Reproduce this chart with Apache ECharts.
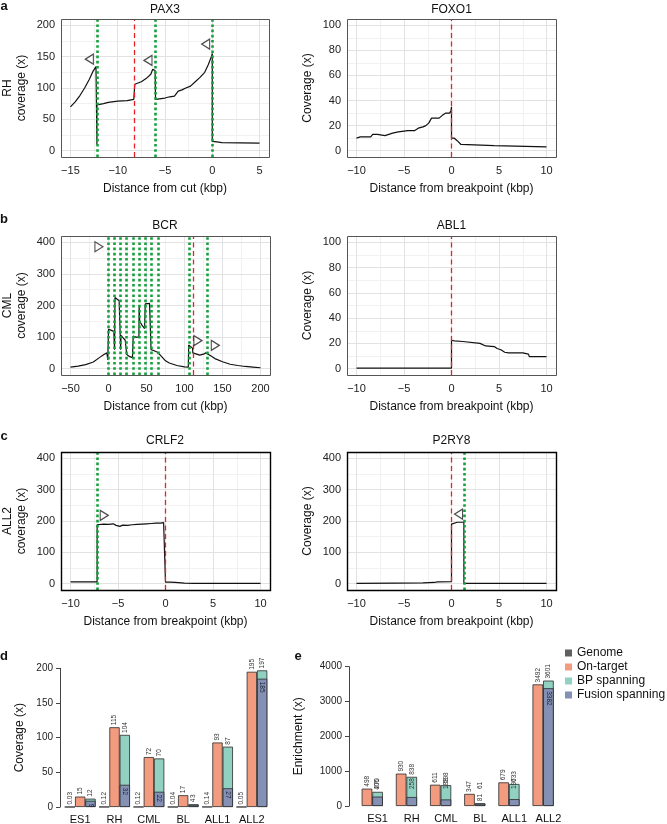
<!DOCTYPE html>
<html>
<head>
<meta charset="utf-8">
<title>Coverage and enrichment</title>
<script src="https://cdn.jsdelivr.net/npm/echarts@6.0.0/dist/echarts.min.js"></script>
<style>
  html, body { margin: 0; padding: 0; background: #fff; }
  #chart { width: 667px; height: 824px; }
</style>
</head>
<body>
<div id="chart"></div>
<script>
// ---- values ----
// coverage traces as [distance (kbp), coverage (x)]
const pax3 = [[-15,70],[-14.5,78],[-14,88],[-13.5,100],[-13,114],[-12.6,127],[-12.3,134],[-12.2,136],[-12.2,10],[-12.2,73],
  [-11.5,75],[-11,77],[-10,79],[-9,80],[-8.3,82],[-8.2,106],[-7.5,110],[-7,115],[-6.5,122],[-6.3,130],[-6.1,131],[-6.05,128],
  [-6,82],[-5,84],[-4.5,86],[-4,87],[-3.6,95],[-3.2,97],[-2.8,100],[-2.3,103],[-1.8,110],[-1.3,117],[-0.8,125],[-0.4,138],
  [-0.1,150],[0,155],[0,15],[0.5,14],[1,13],[3,12.5],[5,12]];
const foxo1 = [[-10,10],[-9.6,11],[-8.5,11],[-8.3,13],[-7.8,13],[-7.6,12],[-7,12],[-6.8,13],[-6.2,14],[-5.6,15],[-4.6,16],
  [-3.9,16],[-3.5,18],[-3,19],[-2.7,20],[-2.4,22],[-2.1,26],[-1.3,26],[-1,28],[-0.6,30],[-0.2,30],[-0.05,32],[0,35],[0,10],
  [0.3,10],[0.4,9],[0.6,8],[0.8,7],[1,5],[1.1,4],[4.5,4],[4.5,3],[10,3]];
const bcr = [[-50,5],[-40,8],[-30,13],[-20,21],[-12,35],[-6,45],[-2,50],[-1,28],[0,28],[0,125],[3,122],[7,118],[8,115],[8,60],
  [8.5,225],[11,222],[14,215],[15.5,213],[16,60],[16.5,105],[19,98],[22,90],[23.5,85],[24,45],[24.5,40],[28,38],[31.5,35],
  [32,30],[32.5,103],[36,100],[40,100],[40.3,200],[41,150],[44,138],[47.5,127],[48,127],[48.3,205],[50,209],[54,207],
  [55.5,205],[56,60],[60,57],[64.5,52],[65,48],[70,38],[75,25],[80,18],[90,10],[100,6],[105,5],[105.5,75],[108,72],
  [110.5,65],[111,50],[115,47],[120,43],[125,46],[128,50],[130,48],[135,40],[140,32],[150,22],[160,14],[170,10],[180,7],
  [190,5],[200,3]];
const abl1 = [[-10,0.5],[0,0.5],[0,22.5],[0.3,22],[1.2,21.5],[1.3,20],[3,20],[3.2,19],[3.6,18],[4.5,17.5],[4.8,16],[5.2,15],
  [5.6,13],[6,12.5],[7.5,12.5],[7.6,11.5],[8.1,11.5],[8.2,9.5],[10,9.5]];
const crlf2 = [[-10,6],[-7.2,6],[-7.2,188],[-6.5,190],[-6,189],[-5.5,191],[-5.2,186],[-4.8,183],[-4.5,187],[-4,186],[-3.5,188],
  [-3,189],[-2.5,190],[-2,191],[-1.5,192],[-1,193],[-0.5,193],[-0.2,195],[0,194],[0,5],[0.5,5],[1,4],[2,2],[3,1],[10,1]];
const p2ry8 = [[-10,1],[-6,2],[-3,3],[-1.8,4],[-1.5,6],[0,7],[0,190],[0.2,195],[0.6,196],[1.3,196],[1.3,1],[10,1]];

// cut sites (green dotted) and breakpoints (red dashed), kbp
const pax3Cuts = [-12.15, -6.05, -0.05], pax3Breaks = [-8.2];
const foxo1Cuts = [], foxo1Breaks = [0];
const bcrCuts = [0, 8, 16, 24, 32, 40, 48, 56, 65, 106, 130], bcrBreaks = [111];
const abl1Cuts = [], abl1Breaks = [0];
const crlf2Cuts = [-7.2], crlf2Breaks = [0];
const p2ry8Cuts = [1.3], p2ry8Breaks = [0];

// open triangle markers
const pax3Marks = [[-13.0,146],[-6.8,144],[-0.7,170]];
const bcrMarks = [[-12.6,386],[117.6,89],[140.5,74]];
const crlf2Marks = [[-6.45,218]];
const p2ry8Marks = [[0.74,222]];

// axis ticks
const cutTicks = [-15, -10, -5, 0, 5], cutMinor = [-12.5, -7.5, -2.5, 2.5];
const bpTicks = [-10, -5, 0, 5, 10], bpMinor = [-7.5, -2.5, 2.5, 7.5];
const bcrTicks = [-50, 0, 50, 100, 150, 200], bcrMinor = [-25, 25, 75, 125, 175];
const cov200 = [0, 50, 100, 150, 200], cov200Minor = [25, 75, 125, 175];
const cov100 = [0, 20, 40, 60, 80, 100], cov100Minor = [10, 30, 50, 70, 90];
const cov400 = [0, 100, 200, 300, 400], cov400Minor = [50, 150, 250, 350];

// bar panels
const cats = ['ES1', 'RH', 'CML', 'BL', 'ALL1', 'ALL2'];
const genomeCov = [0.03, 0.12, 0.12, 0.04, 0.14, 0.05];
const onTargetCov = [15, 115, 72, 17, 93, 195];
const bpCov = [12, 104, 70, 4, 87, 197];
const fusionCov = [9, 32, 22, 3, 27, 185];
const onTargetEnr = [498, 930, 611, 347, 679, 3492];
const bpEnr = [406, 838, 598, 81, 633, 3601];
const fusionEnr = [270, 258, 188, 61, 197, 3382];

const font = '"Liberation Sans", Arial, Helvetica, sans-serif';
const colGenome = '#5f5f5f', colOn = '#F39B7F', colBp = '#91D1C2', colFusion = '#8491B4';

const grids = [], xAxes = [], yAxes = [], series = [], graphics = [];

function minus(v) { return v < 0 ? '\u2212' + Math.abs(v) : String(v); }

function text(x, y, s, size, weight) {
  graphics.push({type: 'text', x: x, y: y, silent: true,
    style: {text: s, align: 'center', verticalAlign: 'middle', fontFamily: font, fontSize: size,
      fontWeight: weight || 'normal', fill: '#111'}});
}

// grid lines as marker lines spanning the axis range
function gridLines(p, vals, color) {
  return vals.x.map(v => [{coord: [v, p.yr[0]]}, {coord: [v, p.yr[1]]}])
    .concat(vals.y.map(v => [{coord: [p.xr[0], v]}, {coord: [p.xr[1], v]}]))
    .map(seg => { seg[0].lineStyle = {color: color, width: 1, type: 'solid'}; return seg; });
}

function linePanel(p) {
  const gi = grids.length;
  grids.push({left: p.box[0], top: p.box[1], width: p.box[2], height: p.box[3], show: false, outerBoundsMode: 'none'});
  xAxes.push({gridIndex: gi, type: 'value', min: p.xr[0], max: p.xr[1],
    name: p.xName, nameLocation: 'middle', nameGap: 26,
    nameTextStyle: {fontFamily: font, fontSize: 12, color: '#111'},
    axisLine: {show: false},
    axisTick: {show: true, customValues: p.xt, length: 3, lineStyle: {color: '#333'}},
    axisLabel: {customValues: p.xt, formatter: minus, margin: 8, fontFamily: font, fontSize: 11, color: '#222'},
    splitLine: {show: false}});
  yAxes.push({gridIndex: gi, type: 'value', min: p.yr[0], max: p.yr[1],
    name: p.yName, nameLocation: 'middle', nameRotate: 90, nameGap: 32,
    nameTextStyle: {fontFamily: font, fontSize: 12, color: '#111', lineHeight: 14},
    axisLine: {show: false},
    axisTick: {show: true, customValues: p.yt, length: 3, lineStyle: {color: '#333'}},
    axisLabel: {customValues: p.yt, margin: 6, fontFamily: font, fontSize: 11, color: '#222'},
    splitLine: {show: false}});
  const ax = {xAxisIndex: gi, yAxisIndex: gi};
  // panel grid: minor then major lines
  series.push(Object.assign({type: 'line', data: [], silent: true,
    markLine: {silent: true, z: 1, symbol: ['none', 'none'], label: {show: false},
      data: gridLines(p, {x: p.xm, y: p.ym}, '#f1f1f1').concat(gridLines(p, {x: p.xt, y: p.yt}, '#e2e2e2'))}}, ax));
  // coverage trace
  series.push(Object.assign({type: 'line', data: p.pts, showSymbol: false, symbol: 'none', silent: true, z: 3,
    lineStyle: {color: '#111', width: 1.2}}, ax));
  // cut sites / breakpoints
  series.push(Object.assign({type: 'line', data: [], silent: true,
    markLine: {silent: true, z: 4, symbol: ['none', 'none'], label: {show: false},
      data: p.cuts.map(v => ({xAxis: v, lineStyle: {color: '#14a03c', width: 2.6, type: [2.6, 2.6]}}))
        .concat(p.breaks.map(v => ({xAxis: v, lineStyle: {color: '#e8202a', width: 1.3, type: [5, 3.5]}})))}}, ax));
  // open triangles
  series.push(Object.assign({type: 'scatter', data: p.marks, symbol: 'triangle', symbolSize: [10, 8],
    symbolRotate: p.rot, silent: true, z: 5,
    itemStyle: {color: '#fff', borderColor: '#222', borderWidth: 1.2}}, ax));
  // panel frame
  graphics.push({type: 'rect', silent: true, z: 100,
    shape: {x: p.box[0] + 0.5, y: p.box[1] + 0.5, width: p.box[2], height: p.box[3]},
    style: {fill: 'none', stroke: p.frame[0], lineWidth: p.frame[1]}});
}

const frameAB = ['#555', 1], frameC = ['#000', 1.4];
linePanel({box: [61, 19, 208, 138], frame: frameAB, xr: [-16, 6], xt: cutTicks, xm: cutMinor,
  yr: [-10, 210], yt: cov200, ym: cov200Minor, pts: pax3, cuts: pax3Cuts, breaks: pax3Breaks,
  marks: pax3Marks, rot: 90, xName: 'Distance from cut (kbp)', yName: 'RH\ncoverage (x)'});
linePanel({box: [347, 19, 209, 138], frame: frameAB, xr: [-11, 11], xt: bpTicks, xm: bpMinor,
  yr: [-5, 105], yt: cov100, ym: cov100Minor, pts: foxo1, cuts: foxo1Cuts, breaks: foxo1Breaks,
  marks: [], rot: 90, xName: 'Distance from breakpoint (kbp)', yName: 'Coverage (x)'});
linePanel({box: [61, 236, 209, 139], frame: frameAB, xr: [-62.5, 212.5], xt: bcrTicks, xm: bcrMinor,
  yr: [-20, 420], yt: cov400, ym: cov400Minor, pts: bcr, cuts: bcrCuts, breaks: bcrBreaks,
  marks: bcrMarks, rot: -90, xName: 'Distance from cut (kbp)', yName: 'CML\ncoverage (x)'});
linePanel({box: [347, 236, 209, 139], frame: frameAB, xr: [-11, 11], xt: bpTicks, xm: bpMinor,
  yr: [-5, 105], yt: cov100, ym: cov100Minor, pts: abl1, cuts: abl1Cuts, breaks: abl1Breaks,
  marks: [], rot: 90, xName: 'Distance from breakpoint (kbp)', yName: 'Coverage (x)'});
linePanel({box: [61, 452, 209, 138], frame: frameC, xr: [-11, 11], xt: bpTicks, xm: bpMinor,
  yr: [-20, 420], yt: cov400, ym: cov400Minor, pts: crlf2, cuts: crlf2Cuts, breaks: crlf2Breaks,
  marks: crlf2Marks, rot: -90, xName: 'Distance from breakpoint (kbp)', yName: 'ALL2\ncoverage (x)'});
linePanel({box: [347, 452, 209, 138], frame: frameC, xr: [-11, 11], xt: bpTicks, xm: bpMinor,
  yr: [-20, 420], yt: cov400, ym: cov400Minor, pts: p2ry8, cuts: p2ry8Cuts, breaks: p2ry8Breaks,
  marks: p2ry8Marks, rot: 90, xName: 'Distance from breakpoint (kbp)', yName: 'Coverage (x)'});

// ---- bar panels ----
const topLab = {show: true, position: 'top', rotate: 90, align: 'left', verticalAlign: 'middle', distance: 2,
  fontFamily: font, fontSize: 6.5, color: '#333'};
const inLab = {show: true, position: 'insideTop', rotate: -90, align: 'left', verticalAlign: 'middle', distance: 3,
  fontFamily: font, fontSize: 6.5, color: '#1c1f33'};

function barPanel(p) {
  const gi = grids.length;
  grids.push({left: p.box[0], top: p.box[1], width: p.box[2], height: p.box[3], outerBoundsMode: 'none'});
  const xi = xAxes.length;
  xAxes.push({gridIndex: gi, type: 'category', data: cats, axisLine: {show: false}, axisTick: {show: false},
    axisLabel: {margin: 7, fontFamily: font, fontSize: 11, color: '#111'}});
  xAxes.push({gridIndex: gi, type: 'category', data: cats, show: false});
  const yi = yAxes.length;
  yAxes.push({gridIndex: gi, type: 'value', min: 0, max: p.yMax, interval: p.yStep, offset: p.offset,
    name: p.yName, nameLocation: 'middle', nameRotate: 90, nameGap: p.nameGap,
    nameTextStyle: {fontFamily: font, fontSize: 12, color: '#111'},
    axisLine: {show: true, lineStyle: {color: '#444', width: 1}},
    axisTick: {show: true, length: 4, lineStyle: {color: '#444'}},
    axisLabel: {margin: 7, formatter: v => String(v), fontFamily: font, fontSize: 10, color: '#222'},
    splitLine: {show: false}});
  const base = {type: 'bar', yAxisIndex: yi, barWidth: p.bw, barGap: '0%', silent: true};
  const style = c => ({color: c, borderColor: '#2b2b2b', borderWidth: 0.8});
  const slot = (idx) => Object.assign({}, base, {xAxisIndex: idx, data: cats.map(() => '-')});
  // first axis: the visible bars in their slots
  p.slots.forEach(s => {
    if (!s) { series.push(slot(xi)); return; }
    series.push(Object.assign({}, base, {xAxisIndex: xi, name: s.name, data: s.data,
      itemStyle: style(s.color), label: topLab}));
  });
  // second axis: fusion spanning drawn over BP spanning; short bars get their label beside
  p.overlay.forEach(s => {
    if (!s) { series.push(slot(xi + 1)); return; }
    const outLab = {show: true, position: 'insideBottom', rotate: 90, align: 'left', verticalAlign: 'middle',
      distance: 5, offset: [s.dx, 0], fontFamily: font, fontSize: 6.5, color: '#333'};
    series.push(Object.assign({}, base, {xAxisIndex: xi + 1, name: s.name, z: 3,
      data: s.data.map(v => v < s.inside ? {value: v, label: outLab} : v),
      itemStyle: style(s.color), label: inLab}));
  });
}

barPanel({box: [63, 668.3, 206, 138.7], bw: 10.3, yMax: 200, yStep: 50, offset: 3, nameGap: 34,
  yName: 'Coverage (x)',
  slots: [{name: 'Genome', data: genomeCov, color: colGenome},
          {name: 'On-target', data: onTargetCov, color: colOn},
          {name: 'BP spanning', data: bpCov, color: colBp}],
  overlay: [null, null, {name: 'Fusion spanning', data: fusionCov, color: colFusion, inside: 5, dx: 4}]});
barPanel({box: [360.5, 666.7, 205, 139.3], bw: 10.6, yMax: 4000, yStep: 1000, offset: 11.5, nameGap: 44,
  yName: 'Enrichment (x)',
  slots: [{name: 'On-target', data: onTargetEnr, color: colOn},
          {name: 'BP spanning', data: bpEnr, color: colBp},
          null],
  overlay: [null, {name: 'Fusion spanning', data: fusionEnr, color: colFusion, inside: 1000, dx: 12}, null]});

// panel titles and letters
text(165, 9.5, 'PAX3', 12);
text(451.5, 9.5, 'FOXO1', 12);
text(165, 226, 'BCR', 12);
text(451.5, 226, 'ABL1', 12);
text(165, 441, 'CRLF2', 12);
text(451.5, 441, 'P2RY8', 12);
text(4, 6, 'a', 13, 'bold');
text(4, 219, 'b', 13, 'bold');
text(4, 436, 'c', 13, 'bold');
text(4, 656, 'd', 13, 'bold');
text(298, 656, 'e', 13, 'bold');

const chart = echarts.init(document.getElementById('chart'), null, {renderer: 'canvas'});
chart.setOption({
  animation: false,
  backgroundColor: '#fff',
  textStyle: {fontFamily: font},
  legend: {data: ['Genome', 'On-target', 'BP spanning', 'Fusion spanning'], orient: 'vertical',
    left: 565, top: 646, padding: 0, itemWidth: 7, itemHeight: 7, itemGap: 0, icon: 'rect',
    selectedMode: false, itemStyle: {borderWidth: 0},
    textStyle: {fontFamily: font, fontSize: 12, color: '#111', lineHeight: 14}},
  grid: grids,
  xAxis: xAxes,
  yAxis: yAxes,
  series: series,
  graphic: {elements: graphics}
});
</script>
</body>
</html>
